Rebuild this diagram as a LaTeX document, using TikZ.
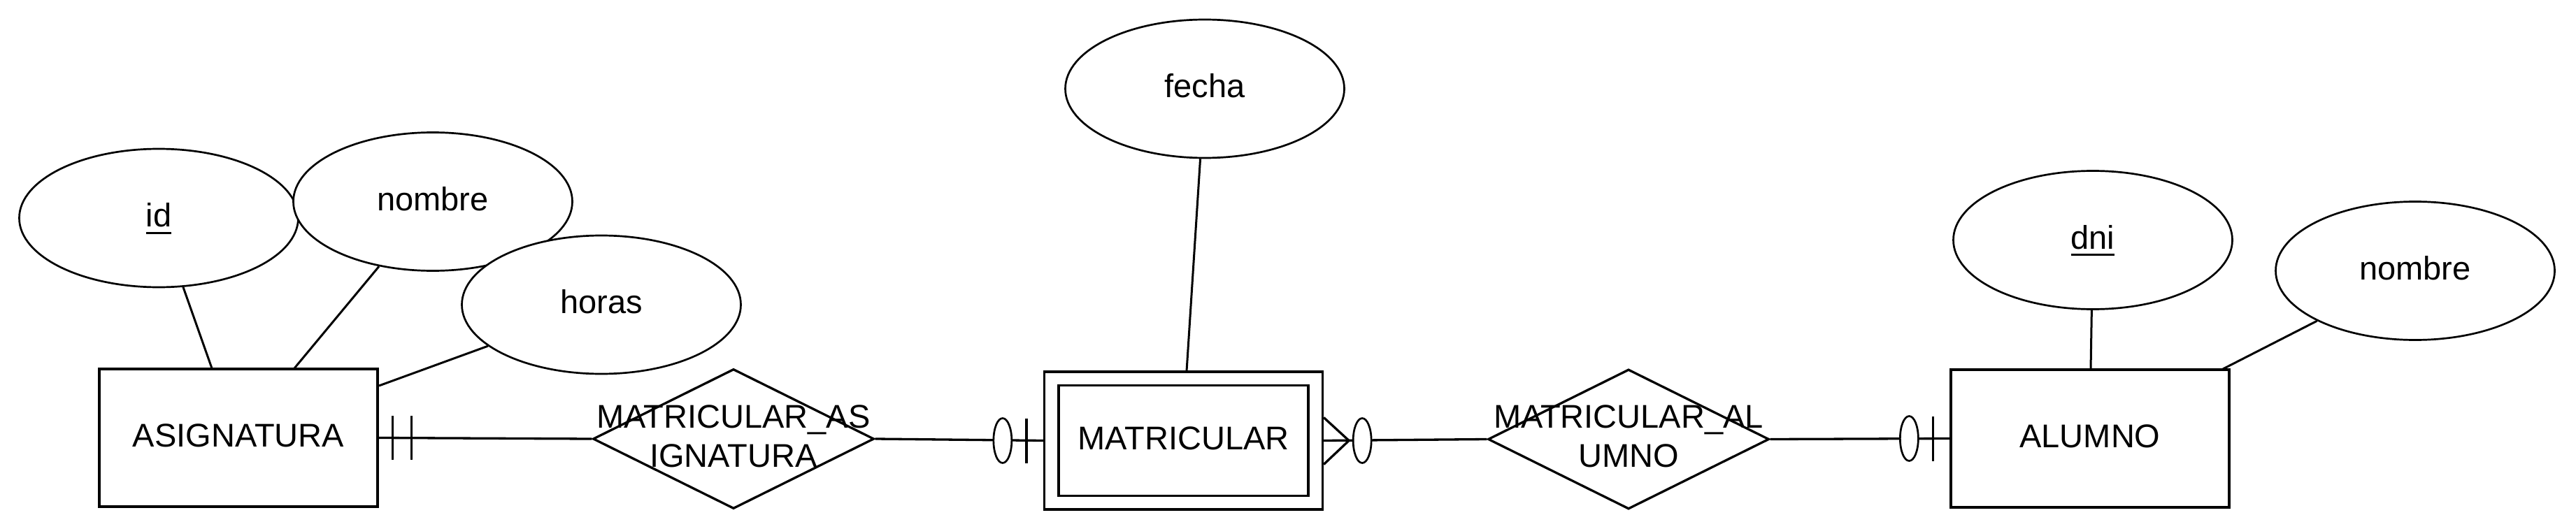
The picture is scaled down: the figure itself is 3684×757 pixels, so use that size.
\documentclass[tikz,border=0pt]{standalone}
\usepackage{fontspec}
\setmainfont{Liberation Sans}
\usetikzlibrary{shapes.geometric,calc}
\newcommand{\dfont}{\fontsize{47}{56}\selectfont}
\newsavebox{\ulbox}
\newcommand{\myul}[1]{\sbox{\ulbox}{#1}\rlap{\rule[-10pt]{\wd\ulbox}{3pt}}\usebox{\ulbox}}
\tikzset{
  ent/.style={draw, line width=3.3pt, fill=white, minimum width=398pt, minimum height=197pt, inner sep=0pt, font=\dfont, text height=34pt, text depth=9pt},
  entin/.style={draw, line width=3.3pt, fill=white, minimum width=357pt, minimum height=158pt, inner sep=0pt, font=\dfont, text height=34pt, text depth=9pt},
  attr/.style={draw, ellipse, line width=2.7pt, fill=white, minimum width=399pt, minimum height=198pt, inner sep=0pt, font=\dfont, text height=34pt, text depth=9pt},
  dia/.style={draw, diamond, line width=3.3pt, fill=white, minimum width=402pt, minimum height=200pt, inner sep=0pt},
  dlab/.style={font=\dfont, align=center, inner sep=0pt},
  attrline/.style={line width=3pt},
  rel/.style={line width=3.3pt},
  card/.style={line width=3.3pt},
  cardo/.style={draw, ellipse, line width=2.7pt, fill=white, minimum width=26pt, minimum height=64pt, inner sep=0pt}
}
\begin{document}
\begin{tikzpicture}[x=1pt,y=-1pt]
\useasboundingbox (0,0) rectangle (3684,757);
\fill[white] (0,0) rectangle (3684,757);

% entities
\node[ent] (asig) at (341,626.5) {ASIGNATURA};
\node[ent] (mat) at (1692.5,630.5) {};
\node[entin] (matin) at (1692.5,630.5) {MATRICULAR};
\node[ent] (alu) at (2989,627.5) {ALUMNO};

% attributes
\node[attr] (id) at (227,312) {\myul{id}};
\node[attr] (nomA) at (619,288.5) {nombre};
\node[attr] (horas) at (860,436) {horas};
\node[attr] (fecha) at (1723,127) {fecha};
\node[attr] (dni) at (2993,343.5) {\myul{dni}};
\node[attr] (nomB) at (3454,387.5) {nombre};

% relationships
\node[dia] (ras) at (1049,628) {};
\node[dia] (ral) at (2329,628.5) {};

% attribute connection points
\coordinate (cid) at (303,527);
\coordinate (cnomA) at (421,527);
\coordinate (chor) at (542,552);
\coordinate (cfecha) at (1697,531);
\coordinate (cdni) at (2990,528);
\coordinate (cnomB) at (3179,528);

\draw[attrline] (id) -- (cid);
\draw[attrline] (nomA) -- (cnomA);
\draw[attrline] (horas) -- (chor);
\draw[attrline] (fecha) -- (cfecha);
\draw[attrline] (dni) -- (cdni);
\draw[attrline] (nomB) -- (cnomB);

% ASIGNATURA -- MATRICULAR_ASIGNATURA (mandatory one)
\draw[rel] (asig.east) -- (ras.west);
\draw[card] ($(asig.east)+(20,-31.5)$) -- ++(0,63);
\draw[card] ($(asig.east)+(47,-31.5)$) -- ++(0,63);

% MATRICULAR_ASIGNATURA -- MATRICULAR (zero or one)
\draw[rel] (ras.east) -- (mat.west);
\draw[card] ($(mat.west)+(-24,-32)$) -- ++(0,64);
\node[cardo] (z1) at ($(mat.west)+(-58,0)$) {};

% MATRICULAR -- MATRICULAR_ALUMNO (zero or many)
\draw[rel] (mat.east) -- (ral.west);
\draw[card] ($(mat.east)+(0,-33)$) -- ($(mat.east)+(36,0)$) -- ($(mat.east)+(0,34)$);
\node[cardo] (z2) at ($(mat.east)+(55,0)$) {};

% MATRICULAR_ALUMNO -- ALUMNO (zero or one)
\draw[rel] (ral.east) -- (alu.west);
\draw[card] ($(alu.west)+(-24,-32)$) -- ++(0,64);
\node[cardo] (z3) at ($(alu.west)+(-58,0)$) {};

% relationship labels
\node[dlab] (rast) at (1049,624) {MATRICULAR\_AS\\IGNATURA};
\node[dlab] (ralt) at (2329,624) {MATRICULAR\_AL\\UMNO};
\end{tikzpicture}
\end{document}
